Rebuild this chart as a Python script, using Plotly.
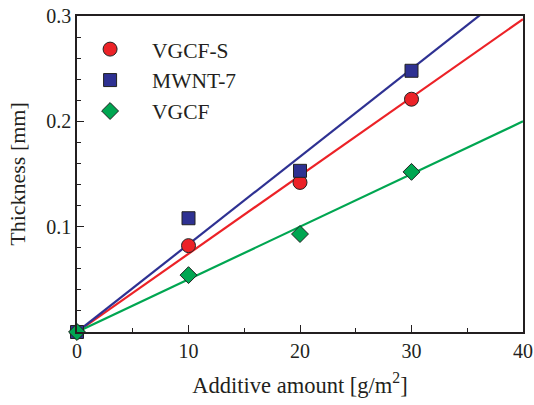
import plotly.graph_objects as go

x_vals = [0, 10, 20, 30]
vgcf_s = [0.0, 0.082, 0.142, 0.221]
mwnt_7 = [0.0, 0.108, 0.153, 0.248]
vgcf = [0.0, 0.054, 0.093, 0.152]

fit_x = [0, 40]
fit_vgcf_s = [0.0, 0.297]
fit_mwnt_7 = [0.0, 0.333]
fit_vgcf = [0.0, 0.200]

red = "#ec2227"
blue = "#2e3192"
green = "#00a651"
outline = "#222222"

fig = go.Figure()
fig.add_trace(go.Scatter(x=fit_x, y=fit_vgcf_s, mode="lines", line=dict(color=red, width=2.2), showlegend=False))
fig.add_trace(go.Scatter(x=fit_x, y=fit_mwnt_7, mode="lines", line=dict(color=blue, width=2.2), showlegend=False))
fig.add_trace(go.Scatter(x=fit_x, y=fit_vgcf, mode="lines", line=dict(color=green, width=2.2), showlegend=False))

fig.add_trace(go.Scatter(x=x_vals, y=vgcf_s, mode="markers", name="VGCF-S",
                         marker=dict(symbol="circle", size=14, color=red, line=dict(color=outline, width=1)),
                         cliponaxis=False))
fig.add_trace(go.Scatter(x=x_vals, y=mwnt_7, mode="markers", name="MWNT-7",
                         marker=dict(symbol="square", size=13, color=blue, line=dict(color=outline, width=1)),
                         cliponaxis=False))
fig.add_trace(go.Scatter(x=x_vals, y=vgcf, mode="markers", name="VGCF",
                         marker=dict(symbol="diamond", size=13, color=green, line=dict(color=outline, width=1)),
                         cliponaxis=False))

font = "Liberation Serif, Times New Roman, serif"
fig.update_layout(
    width=534, height=405,
    margin=dict(l=77, r=11, t=16, b=73, autoexpand=False),
    paper_bgcolor="white", plot_bgcolor="white",
    font=dict(family=font, size=20, color="#231f20"),
    legend=dict(x=-0.02, y=0.96, xanchor="left", yanchor="top",
                bgcolor="rgba(0,0,0,0)", font=dict(size=21.5), itemwidth=74,
                tracegroupgap=0),
    xaxis=dict(range=[0, 40], tickvals=[0, 10, 20, 30, 40], ticks="inside", ticklen=7,
               tickcolor="#231f20", showline=True, linecolor="#231f20", linewidth=1.5, mirror=True,
               showgrid=False, zeroline=False, automargin=False,
               tickfont=dict(size=20),
               minor=dict(dtick=5, ticks="inside", ticklen=4, tickcolor="#231f20"),
               title=dict(text="Additive amount [g/m<sup>2</sup>]", standoff=16, font=dict(size=22.5))),
    yaxis=dict(range=[0, 0.3], tickvals=[0.1, 0.2, 0.3], ticktext=["0.1", "0.2", "0.3"],
               ticks="inside", ticklen=7,
               tickcolor="#231f20", showline=True, linecolor="#231f20", linewidth=1.5, mirror=True,
               showgrid=False, zeroline=False, automargin=False,
               tickfont=dict(size=20),
               minor=dict(dtick=0.02, ticks="inside", ticklen=4, tickcolor="#231f20"),
               title=dict(text="Thickness [mm]", standoff=15, font=dict(size=22))),
)

fig.write_html("out.html")
